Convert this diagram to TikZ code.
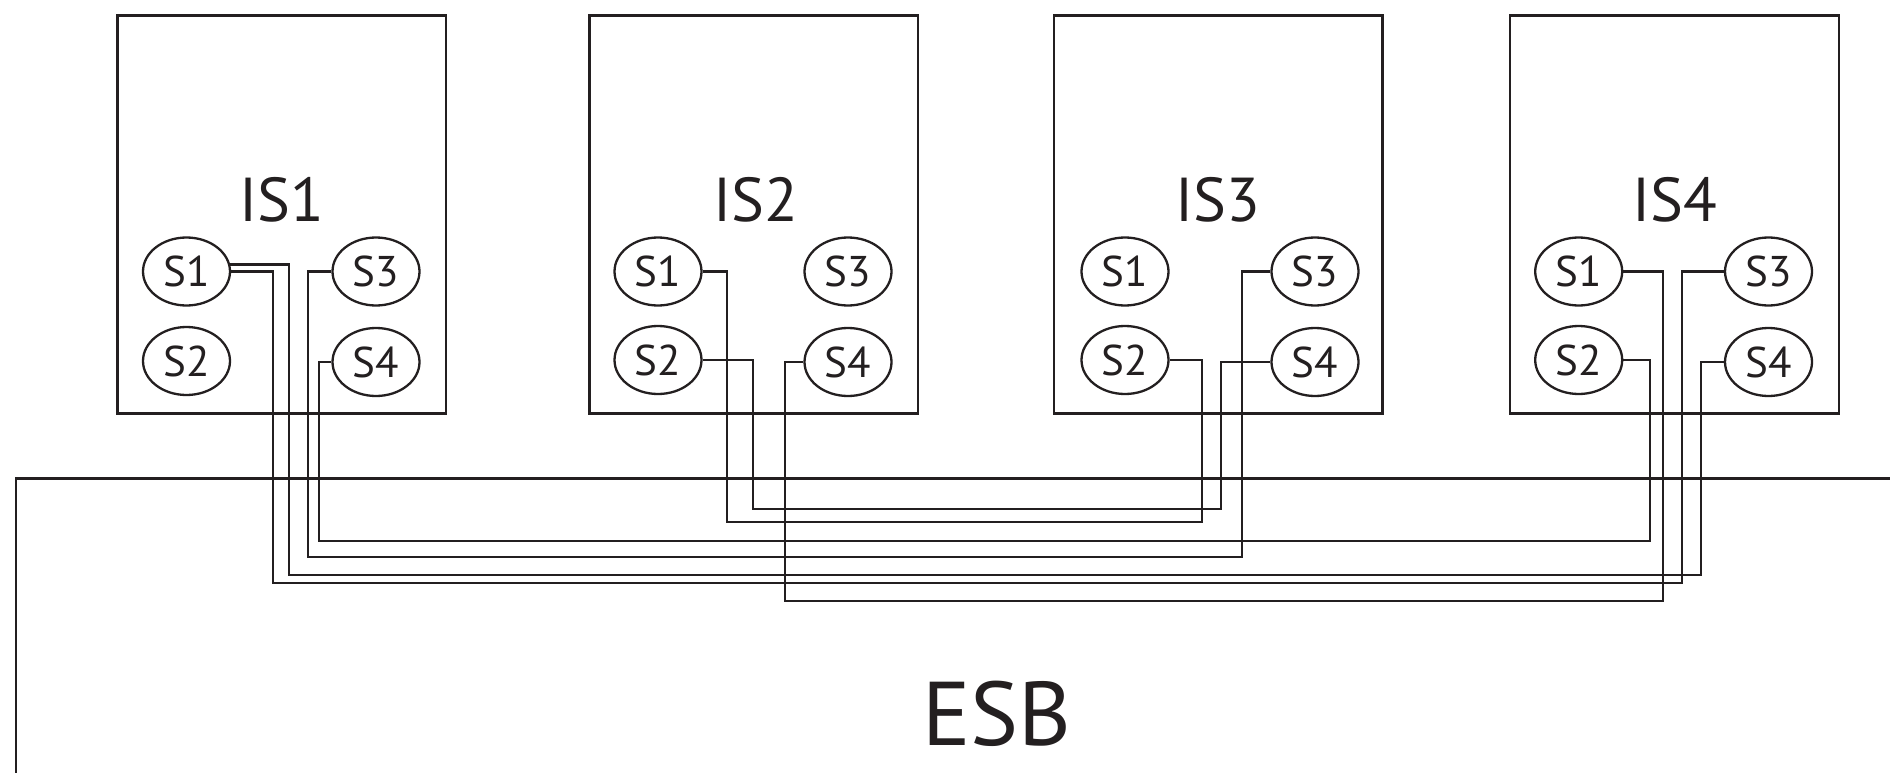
\documentclass[tikz,border=0pt]{standalone}
\usepackage{fontspec}
\setmainfont{PT Sans}
\usetikzlibrary{shapes.geometric}
\definecolor{ink}{HTML}{231F20}
\tikzset{
  isbox/.style={draw=ink, line width=2.3pt, rectangle, minimum width=328.7pt, minimum height=397.7pt, inner sep=0pt},
  islabel/.style={anchor=base, inner sep=0pt, text=ink, font=\fontsize{62}{70}\selectfont},
  svc/.style={draw=ink, line width=2.3pt, ellipse, minimum width=87pt, minimum height=68pt, inner sep=0pt, text=ink, font=\fontsize{43}{50}\selectfont},
  esblabel/.style={anchor=base, inner sep=0pt, text=ink, font=\fontsize{90.5}{100}\selectfont},
  wire/.style={draw=ink, line width=2.3pt}
}
\begin{document}
\begin{tikzpicture}[x=1pt,y=-1pt]
\useasboundingbox (0,0) rectangle (1890,773);
% ESB
\draw[wire] (16,780) -- (16,478.5) -- (1900,478.5);
\node[esblabel] (esb) at (997,745) {ESB};
% IS boxes
\node[isbox] (is1) at (281.7,214.5) {};
\node[isbox] (is2) at (753.8,214.5) {};
\node[isbox] (is3) at (1218,214.5) {};
\node[isbox] (is4) at (1674.5,214.5) {};
\node[islabel] (l1) at (281.7,221.7) {IS1};
\node[islabel] (l2) at (755.5,221.7) {IS2};
\node[islabel] (l3) at (1218,221.7) {IS3};
\node[islabel] (l4) at (1674.5,221.7) {IS4};
% services
\node[svc] (a1) at (186.5,271.5) {S1};
\node[svc] (a2) at (186.5,361) {S2};
\node[svc] (a3) at (376,271.5) {S3};
\node[svc] (a4) at (376,362) {S4};
\node[svc] (b1) at (658,271.5) {S1};
\node[svc] (b2) at (658,360) {S2};
\node[svc] (b3) at (848,271.5) {S3};
\node[svc] (b4) at (848,362) {S4};
\node[svc] (c1) at (1125,271.5) {S1};
\node[svc] (c2) at (1125,360) {S2};
\node[svc] (c3) at (1315,271.5) {S3};
\node[svc] (c4) at (1315,362) {S4};
\node[svc] (d1) at (1578.7,271.5) {S1};
\node[svc] (d2) at (1578.7,360) {S2};
\node[svc] (d3) at (1768.5,271.5) {S3};
\node[svc] (d4) at (1768.5,362) {S4};
% wires
\draw[wire] (a1.9) -| (289.3,575) -- (1700.7,575) |- (d4.west);
\draw[wire] (a1.east) -| (272.7,583.3) -- (1681.7,583.3) |- (d3.west);
\draw[wire] (a3.west) -| (307.7,556.7) -- (1241.7,556.7) |- (c3.west);
\draw[wire] (a4.west) -| (319,540.7) -- (1650,540.7) |- (d2.east);
\draw[wire] (b1.east) -| (726.7,521.7) -- (1201.7,521.7) |- (c2.east);
\draw[wire] (b2.east) -| (753,509) -- (1220.7,509) |- (c4.west);
\draw[wire] (b4.west) -| (785,601) -- (1663.3,601) |- (d1.east);
\end{tikzpicture}
\end{document}
